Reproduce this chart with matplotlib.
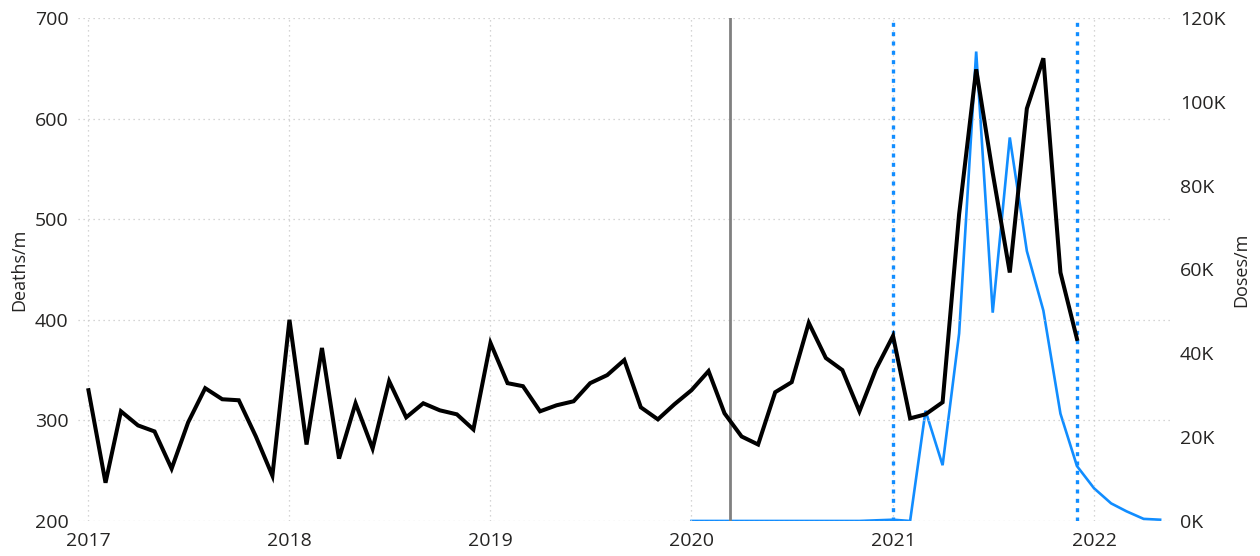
import matplotlib
matplotlib.use("Agg")
import matplotlib.pyplot as plt
import matplotlib.dates as mdates
import pandas as pd
from matplotlib.ticker import FuncFormatter, MultipleLocator

# Monthly deaths per month, Jan 2017 - Dec 2021
death_months = pd.date_range("2017-01-01", "2021-12-01", freq="MS")
deaths = [
    330, 238, 309, 295, 289, 252, 298, 332, 321, 320, 284, 245,   # 2017
    400, 276, 372, 262, 317, 272, 339, 303, 317, 310, 306, 291,   # 2018
    377, 337, 334, 309, 315, 319, 337, 345, 360, 313, 301, 316,   # 2019
    330, 349, 307, 284, 276, 328, 338, 397, 362, 350, 309, 351,   # 2020
    384, 302, 306, 318, 505, 649, 546, 447, 610, 660, 447, 381,   # 2021
]

# Monthly vaccine doses, Jan 2020 - May 2022
dose_months = pd.date_range("2020-01-01", "2022-05-01", freq="MS")
doses = [
    0, 0, 0, 0, 0, 0, 0, 0, 0, 0, 0, 150,                          # 2020
    300, 0, 26300, 13300, 44700, 112000, 49700, 91500, 64400, 50200, 25600, 13100,  # 2021
    7800, 4200, 2300, 500, 300,                                    # 2022
]

pandemic_start = pd.Timestamp("2020-03-11")
campaign_marks = [pd.Timestamp("2021-01-01"), pd.Timestamp("2021-12-01")]
year_ticks = pd.date_range("2017-01-01", "2022-01-01", freq="YS")

text_color = "#252423"
blue = "#118DFF"

plt.rcParams["font.family"] = ["Open Sans", "DejaVu Sans"]

fig = plt.figure(figsize=(12.6, 5.56), dpi=100)
ax = fig.add_axes([0.0619, 0.063, 0.9286 - 0.0619, 0.9676 - 0.063])
ax2 = ax.twinx()

# grid
ax.set_ylim(200, 700)
ax.yaxis.set_major_locator(MultipleLocator(100))
ax.set_xticks(year_ticks)
ax.xaxis.set_major_formatter(mdates.DateFormatter("%Y"))
ax.grid(True, linestyle=(0, (1, 3)), color="#C8C8C8", linewidth=0.9)
ax.set_axisbelow(True)

ax.set_xlim(pd.Timestamp("2016-12-13"), pd.Timestamp("2022-05-19"))

# reference lines
ax.axvline(pandemic_start, color="#808080", linewidth=2.0, zorder=2)
for d in campaign_marks:
    ax.axvline(d, color=blue, linewidth=2.4, linestyle=(0, (1.2, 1.6)), zorder=2)

# series
ax2.plot(dose_months, doses, color=blue, linewidth=1.9, zorder=3, solid_joinstyle="miter")
ax.plot(death_months, deaths, color="black", linewidth=2.9, zorder=4, solid_joinstyle="miter")
ax.set_zorder(ax2.get_zorder() + 1)
ax.patch.set_visible(False)

ax2.set_ylim(0, 120000)
ax2.yaxis.set_major_locator(MultipleLocator(20000))
ax2.yaxis.set_major_formatter(FuncFormatter(lambda v, p: f"{int(v/1000)}K"))

for a in (ax, ax2):
    for s in a.spines.values():
        s.set_visible(False)
    a.tick_params(length=0, labelsize=14, colors=text_color)

ax.tick_params(axis="x", pad=8)
ax.tick_params(axis="y", pad=7)
ax2.tick_params(axis="y", pad=7)

ax.set_ylabel("Deaths/m", fontsize=13, color=text_color)
ax2.set_ylabel("Doses/m", fontsize=13, color=text_color)
ax.yaxis.set_label_coords(-0.046, 0.5)
ax2.yaxis.set_label_coords(1.057, 0.5)

fig.savefig("out.png", dpi=100)
